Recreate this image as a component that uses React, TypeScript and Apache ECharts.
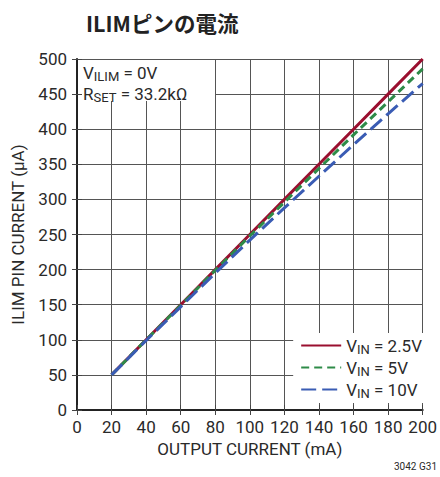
import React, { useEffect, useRef } from "react";
import * as echarts from "echarts";

const outputCurrent = [20, 40, 60, 80, 100, 120, 140, 160, 180, 200];
const vin25 = [50, 100, 150, 200, 250, 300, 350, 400, 450, 500];
const vin5 = [50, 100, 149, 199, 248, 296, 344, 392, 439, 486];
const vin10 = [50, 99, 147, 195, 242, 288, 333, 378, 422, 465];
const seriesNames = ["VIN = 2.5V", "VIN = 5V", "VIN = 10V"];
const seriesLabels = ["2.5V", "5V", "10V"];

const FONT = "Roboto, 'Liberation Sans', sans-serif";
const TXT = "#2a2a2a";

export default function App() {
  const ref = useRef<HTMLDivElement>(null);
  useEffect(() => {
    if (!ref.current) return;
    const chart = echarts.init(ref.current, null, { renderer: "svg" });
    const toPts = (arr: number[]) => outputCurrent.map((x, i) => [x, arr[i]]);
    const colors = ["#9a0f2f", "#2e8b48", "#3a5cb4"];
    const types: any[] = ["solid", [8, 5], [15, 6]];
    const datas = [vin25, vin5, vin10];
    const axisLineStyle = { color: "#222", width: 1.5 };
    const tickAxis = {
      type: "value",
      axisLine: { show: true, lineStyle: axisLineStyle },
      axisTick: { show: true, inside: true, length: 5, lineStyle: { color: "#444" } },
      axisLabel: { show: false },
      splitLine: { show: false },
      z: 5,
    };
    chart.setOption({
      animation: false,
      grid: { left: 77, right: 12, top: 59, bottom: 67 },
      title: {
        text: "ILIMピンの電流",
        left: 81,
        top: 7,
        textStyle: { fontFamily: "'Noto Sans CJK JP', sans-serif", fontSize: 21.5, fontWeight: "bold", color: "#222" },
      },
      xAxis: [
        {
          type: "value",
          min: 0,
          max: 200,
          interval: 20,
          name: "OUTPUT CURRENT (mA)",
          nameLocation: "middle",
          nameGap: 30,
          nameTextStyle: { fontFamily: FONT, fontSize: 17, color: TXT, fontWeight: "normal" },
          axisLine: { lineStyle: axisLineStyle },
          axisTick: { show: false },
          axisLabel: { fontFamily: FONT, fontSize: 17, color: TXT, margin: 8, fontWeight: "normal" },
          splitLine: { show: true, lineStyle: { color: "#555", width: 1 } },
          z: 0,
        },
        { ...tickAxis, position: "top", min: 0, max: 200, interval: 20 },
        { ...tickAxis, position: "bottom", min: 0, max: 200, interval: 20 },
      ],
      yAxis: [
        {
          type: "value",
          min: 0,
          max: 500,
          interval: 50,
          name: "ILIM PIN CURRENT (µA)",
          nameLocation: "middle",
          nameGap: 51,
          nameTextStyle: { fontFamily: FONT, fontSize: 17, color: TXT, fontWeight: "normal" },
          axisLine: { show: true, lineStyle: axisLineStyle },
          axisTick: { show: false },
          axisLabel: { fontFamily: FONT, fontSize: 17, color: TXT, margin: 10, fontWeight: "normal" },
          splitLine: { show: true, lineStyle: { color: "#555", width: 1 } },
          z: 0,
        },
        { ...tickAxis, position: "right", min: 0, max: 500, interval: 50 },
        { ...tickAxis, position: "left", min: 0, max: 500, interval: 50 },
      ],
      legend: {
        orient: "vertical",
        right: 13,
        bottom: 74,
        z: 1,
        backgroundColor: "#fff",
        padding: [4, 5, 3, 7],
        itemWidth: 40,
        itemHeight: 14,
        itemGap: 3,
        itemStyle: { opacity: 0, borderWidth: 0 },
        data: seriesNames,
        formatter: (name: string) => {
          const idx = seriesNames.indexOf(name);
          return `{v|V}{s|IN}{v| = ${seriesLabels[idx]}}`;
        },
        textStyle: {
          fontFamily: FONT,
          color: TXT,
          rich: {
            v: { fontFamily: FONT, fontSize: 17, color: TXT },
            s: { fontFamily: FONT, fontSize: 13, color: TXT, verticalAlign: "bottom", padding: [8, 0, 0, 0] },
          },
        },
      },
      graphic: [
        {
          type: "rect",
          z: 1,
          shape: { x: 78, y: 60, width: 137, height: 41 },
          style: { fill: "#fff" },
        },
        {
          type: "text",
          z: 2,
          left: 83,
          top: 63,
          style: {
            text: "{v|V}{s|ILIM}{v| = 0V}\n{v|R}{s|SET}{v| = 33.2kΩ}",
            fill: TXT,
            rich: {
              v: { fontFamily: FONT, fontSize: 17, fill: TXT, lineHeight: 21 },
              s: { fontFamily: FONT, fontSize: 13, fill: TXT, padding: [7, 0, 0, 0], lineHeight: 21 },
            },
          },
        },
        {
          type: "text",
          z: 2,
          right: 3,
          top: 461,
          style: { text: "3042 G31", fontFamily: FONT, fontSize: 10, fill: TXT },
        },
      ],
      series: datas.map((d, i) => ({
        name: seriesNames[i],
        type: "line",
        data: toPts(d),
        symbol: "none",
        showSymbol: false,
        smooth: false,
        z: 3,
        lineStyle: { color: colors[i], width: 3, type: types[i] },
        itemStyle: { color: colors[i] },
      })),
    });
    return () => chart.dispose();
  }, []);
  return <div ref={ref} style={{ width: 440, height: 477, position: "absolute", left: 0, top: 0 }} />;
}
